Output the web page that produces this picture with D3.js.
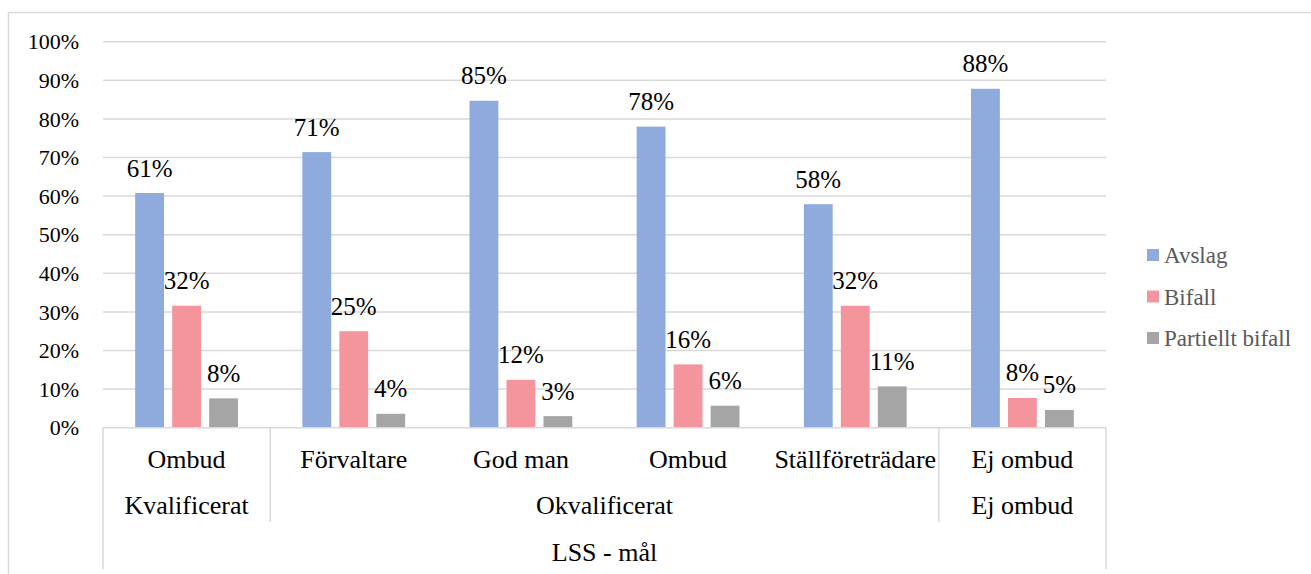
<!DOCTYPE html>
<html>
<head>
<meta charset="utf-8">
<script src="https://cdn.jsdelivr.net/npm/d3@7"></script>
</head>
<body style="margin:0">
<script>
// categories (lowest level) and their parent groups
var categories = ['Ombud', 'Förvaltare', 'God man', 'Ombud', 'Ställföreträdare', 'Ej ombud'];
var groups = [
  { name: 'Kvalificerat', from: 0, to: 1 },
  { name: 'Okvalificerat', from: 1, to: 5 },
  { name: 'Ej ombud', from: 5, to: 6 }
];
var topLabel = 'LSS - mål';

var seriesNames = ['Avslag', 'Bifall', 'Partiellt bifall'];
var avslag = [0.608, 0.714, 0.847, 0.780, 0.579, 0.878];
var bifall = [0.316, 0.250, 0.124, 0.164, 0.316, 0.077];
var partiellt = [0.076, 0.036, 0.030, 0.057, 0.107, 0.046];
var yTicks = [0, 0.1, 0.2, 0.3, 0.4, 0.5, 0.6, 0.7, 0.8, 0.9, 1];

var colors = ['#8faadc', '#f4959e', '#a5a5a5'];
var seriesValues = [avslag, bifall, partiellt];

var width = 1311, height = 574;
var plotLeft = 103, plotRight = 1106, plotTop = 41.7, plotBottom = 427.7;

var svg = d3.select('body').append('svg')
  .attr('width', width)
  .attr('height', height)
  .style('display', 'block');

// every label goes through this helper so the font is set in one place
function label(sel) {
  return sel.style('font-family', 'Times, Tinos, "Liberation Serif", serif');
}

// outer chart border
svg.append('rect')
  .attr('x', 8.5).attr('y', 12.5)
  .attr('width', 1320).attr('height', 620)
  .attr('fill', 'none')
  .attr('stroke', '#d9d9d9')
  .attr('stroke-width', 1.5);

var y = d3.scaleLinear().domain([0, 1]).range([plotBottom, plotTop]);

var x0 = d3.scaleBand()
  .domain(d3.range(categories.length))
  .range([plotLeft, plotRight])
  .padding(0);

var x1 = d3.scaleBand()
  .domain(d3.range(seriesNames.length))
  .range([0, x0.bandwidth()])
  .paddingInner(0.22)
  .paddingOuter(0.87);

// gridlines
svg.append('g').selectAll('line')
  .data(yTicks.slice(1))
  .enter().append('line')
  .attr('x1', plotLeft).attr('x2', plotRight)
  .attr('y1', function (d) { return y(d); })
  .attr('y2', function (d) { return y(d); })
  .attr('stroke', '#d9d9d9')
  .attr('stroke-width', 1.5);

// y axis labels
var yAxis = d3.axisLeft(y)
  .tickValues(yTicks)
  .tickFormat(d3.format('.0%'))
  .tickSize(0)
  .tickPadding(24);

var yAxisGroup = svg.append('g')
  .attr('transform', 'translate(' + plotLeft + ',0)')
  .call(yAxis)
  .attr('font-size', 22);
yAxisGroup.select('.domain').remove();
label(yAxisGroup.selectAll('text'))
  .attr('fill', '#000')
  .attr('dy', '0.33em');

// bars
var groupSel = svg.append('g').selectAll('g')
  .data(categories)
  .enter().append('g')
  .attr('transform', function (d, i) { return 'translate(' + x0(i) + ',0)'; });

groupSel.selectAll('rect')
  .data(function (d, i) {
    return seriesValues.map(function (vals, s) { return { s: s, v: vals[i] }; });
  })
  .enter().append('rect')
  .attr('x', function (d) { return x1(d.s); })
  .attr('y', function (d) { return y(d.v); })
  .attr('width', x1.bandwidth())
  .attr('height', function (d) { return plotBottom - y(d.v); })
  .attr('fill', function (d) { return colors[d.s]; });

label(groupSel.selectAll('text')
  .data(function (d, i) {
    return seriesValues.map(function (vals, s) { return { s: s, v: vals[i] }; });
  })
  .enter().append('text'))
  .attr('x', function (d) { return x1(d.s) + x1.bandwidth() / 2; })
  .attr('y', function (d) { return y(d.v) - 16.5; })
  .attr('text-anchor', 'middle')
  .attr('font-size', 25)
  .attr('fill', '#000')
  .text(function (d) { return Math.round(d.v * 100) + '%'; });

// category axis
var axisG = svg.append('g').attr('stroke', '#d9d9d9').attr('stroke-width', 1.5);
axisG.append('line')
  .attr('x1', plotLeft).attr('x2', plotRight)
  .attr('y1', plotBottom).attr('y2', plotBottom);
axisG.append('line')
  .attr('x1', plotLeft).attr('x2', plotLeft)
  .attr('y1', plotBottom).attr('y2', 569);
axisG.append('line')
  .attr('x1', plotRight).attr('x2', plotRight)
  .attr('y1', plotBottom).attr('y2', 569);
axisG.selectAll('.sep')
  .data(groups.slice(1))
  .enter().append('line')
  .attr('class', 'sep')
  .attr('x1', function (g) { return x0(g.from); })
  .attr('x2', function (g) { return x0(g.from); })
  .attr('y1', plotBottom).attr('y2', 522);

label(svg.append('g').selectAll('text')
  .data(categories)
  .enter().append('text'))
  .attr('x', function (d, i) { return x0(i) + x0.bandwidth() / 2; })
  .attr('y', 467.5)
  .attr('text-anchor', 'middle')
  .attr('font-size', 26)
  .attr('fill', '#000')
  .text(function (d) { return d; });

label(svg.append('g').selectAll('text')
  .data(groups)
  .enter().append('text'))
  .attr('x', function (g) { return (x0(g.from) + x0(g.to - 1) + x0.bandwidth()) / 2; })
  .attr('y', 514)
  .attr('text-anchor', 'middle')
  .attr('font-size', 26)
  .attr('fill', '#000')
  .text(function (g) { return g.name; });

label(svg.append('text'))
  .attr('x', (plotLeft + plotRight) / 2)
  .attr('y', 561)
  .attr('text-anchor', 'middle')
  .attr('font-size', 26)
  .attr('fill', '#000')
  .text(topLabel);

// legend
var legend = svg.append('g').selectAll('g')
  .data(seriesNames)
  .enter().append('g')
  .attr('transform', function (d, i) { return 'translate(1147,' + (255 + i * 41.5) + ')'; });
legend.append('rect')
  .attr('x', 0).attr('y', -6)
  .attr('width', 12).attr('height', 12)
  .attr('fill', function (d, i) { return colors[i]; });
label(legend.append('text'))
  .attr('x', 17).attr('y', 8)
  .attr('font-size', 23)
  .attr('fill', '#595959')
  .text(function (d) { return d; });
</script>
</body>
</html>
